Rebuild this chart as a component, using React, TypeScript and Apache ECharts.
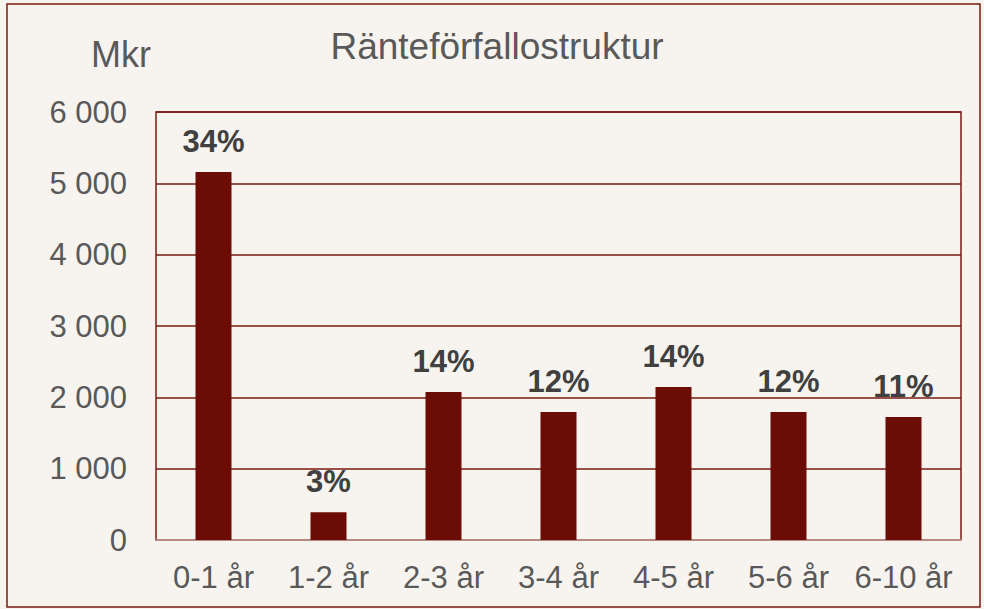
import React, { useEffect, useRef } from "react";
import * as echarts from "echarts";

const categories = ["0-1 år", "1-2 år", "2-3 år", "3-4 år", "4-5 år", "5-6 år", "6-10 år"];
const values = [5160, 390, 2075, 1795, 2145, 1795, 1725];
const shareLabels = ["34%", "3%", "14%", "12%", "14%", "12%", "11%"];
const yTicks = [0, 1000, 2000, 3000, 4000, 5000, 6000];

const DARK_RED = "#6B0D04";
const LINE_RED = "#7A1A12";
const FONT = "'Liberation Sans', Arial, sans-serif";

export default function App() {
  const ref = useRef<HTMLDivElement>(null);
  useEffect(() => {
    document.body.style.margin = "0";
    const chart = echarts.init(ref.current!, null, { renderer: "svg" });
    chart.setOption({
      animation: false,
      backgroundColor: "#F7F4EF",
      textStyle: { fontFamily: FONT },
      graphic: [
        {
          type: "rect",
          shape: { x: 7, y: 4, width: 973, height: 603 },
          style: { fill: "none", stroke: LINE_RED, lineWidth: 1.5 },
          silent: true,
        },
        {
          type: "text",
          x: 497,
          y: 46,
          style: {
            text: "Ränteförfallostruktur",
            fontSize: 37,
            fill: "#595959",
            fontFamily: FONT,
            align: "center",
            verticalAlign: "middle",
          },
        },
        {
          type: "text",
          x: 91,
          y: 54,
          style: {
            text: "Mkr",
            fontSize: 36,
            fill: "#595959",
            fontFamily: FONT,
            align: "left",
            verticalAlign: "middle",
          },
        },
      ],
      grid: {
        left: 156,
        top: 112,
        width: 805,
        height: 428,
        show: true,
        borderColor: LINE_RED,
        borderWidth: 1.5,
        backgroundColor: "transparent",
      },
      xAxis: {
        type: "category",
        data: categories,
        axisTick: { show: false },
        axisLine: { lineStyle: { color: "#C9A9A6", width: 1.5 } },
        axisLabel: { interval: 0, fontSize: 31, color: "#595959", margin: 22, fontFamily: FONT },
      },
      yAxis: {
        type: "value",
        min: yTicks[0],
        max: yTicks[yTicks.length - 1],
        interval: 1000,
        axisLine: { show: false },
        axisTick: { show: false },
        splitLine: { lineStyle: { color: LINE_RED, width: 1.5 } },
        axisLabel: {
          fontSize: 31,
          color: "#595959",
          margin: 29,
          fontFamily: FONT,
          formatter: (v: number) => String(v).replace(/\B(?=(\d{3})+(?!\d))/g, " "),
        },
      },
      series: [
        {
          type: "bar",
          data: values,
          barWidth: 36,
          itemStyle: { color: DARK_RED },
          label: {
            show: true,
            position: "top",
            distance: 15,
            fontSize: 31,
            fontWeight: "bold",
            color: "#404040",
            fontFamily: FONT,
            formatter: (p: any) => shareLabels[p.dataIndex],
          },
        },
      ],
    });
    return () => chart.dispose();
  }, []);
  return <div ref={ref} style={{ width: 984, height: 609, position: "fixed", left: 0, top: 0 }} />;
}
